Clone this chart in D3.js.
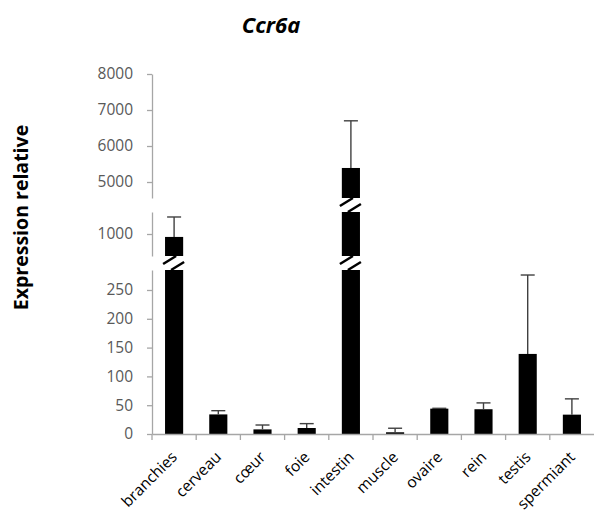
<!DOCTYPE html>
<html>
<head>
<meta charset="utf-8">
<script src="https://cdn.jsdelivr.net/npm/d3@7"></script>
<style>
  html, body { margin: 0; padding: 0; background: #fff; }
  svg { display: block; font-family: "Open Sans", "Noto Sans", sans-serif; }
</style>
</head>
<body>
<svg id="chart" width="594" height="513"></svg>
<script>
// ---- data ----
const categories = ["branchies", "cerveau", "cœur", "foie", "intestin", "muscle", "ovaire", "rein", "testis", "spermiant"];
const values     = [960, 34, 8, 10.4, 5390, 3, 44, 43, 139, 33.6];
const errors     = [272, 6.5, 7.6, 7.6, 1310, 7, 0.6, 11, 137, 27.4];
const title = "Ccr6a";
const yTitle = "Expression relative";
// broken y axis: three segments (low, middle, high)
const segDomains = [[0, 284.7], [700, 1300], [4556, 8000]];
const segTicks   = [[0, 50, 100, 150, 200, 250], [1000], [5000, 6000, 7000, 8000]];

// ---- layout ----
const svg = d3.select("#chart");
const axisX = 152, xEnd = 594;
const segRanges = [[434, 270], [256, 212], [198, 74]];
const axisColor = "#a6a6a6", labelColor = "#595959";

const x = d3.scaleBand().domain(categories).range([axisX, xEnd]).padding(0);
const step = x.step();
const barW = step * 0.41;
const cx = c => x(c) + step / 2;

const segScales = segDomains.map((d, i) => d3.scaleLinear().domain(d).range(segRanges[i]));

// title
svg.append("text").attr("x", 271).attr("y", 33)
  .attr("text-anchor", "middle").attr("font-size", 22)
  .attr("font-weight", "bold").attr("font-style", "italic").attr("fill", "#000")
  .text(title);

// y title
svg.append("text").attr("transform", "translate(28,217.5) rotate(-90)")
  .attr("text-anchor", "middle").attr("font-size", 19.5).attr("font-weight", "bold")
  .attr("fill", "#000").text(yTitle);

// y axes per segment
segScales.forEach((s, i) => {
  const g = svg.append("g").attr("transform", `translate(${axisX},0)`)
    .call(d3.axisLeft(s).tickValues(segTicks[i]).tickSize(5).tickSizeOuter(0).tickPadding(14).tickFormat(d3.format("d")));
  g.select(".domain").attr("stroke", axisColor).attr("stroke-width", 1.3);
  g.selectAll(".tick line").attr("stroke", axisColor).attr("stroke-width", 1.3);
  g.selectAll(".tick text").attr("fill", labelColor).attr("font-size", 15.5)
    .attr("font-family", "Open Sans, sans-serif");
});

// bars per segment
const data = categories.map((c, i) => ({ c, v: values[i], e: errors[i] }));
segScales.forEach((s, i) => {
  const [lo, hi] = s.domain();
  svg.append("g").selectAll("rect")
    .data(data.filter(d => d.v > lo))
    .join("rect")
    .attr("x", d => cx(d.c) - barW / 2)
    .attr("width", barW)
    .attr("y", d => s(Math.min(d.v, hi)))
    .attr("height", d => s(lo) - s(Math.min(d.v, hi)))
    .attr("fill", "#000");
});

// break marks between segments
for (let i = 0; i < segScales.length - 1; i++) {
  const gapMid = (segRanges[i][1] + segRanges[i + 1][0]) / 2;
  const nextLo = segDomains[i + 1][0];
  const g = svg.append("g");
  data.filter(d => d.v > nextLo).forEach(d => {
    const c0 = cx(d.c);
    [[-11, 1, 2, -7], [-3, 7, 10, -1]].forEach(o => {
      g.append("line")
        .attr("x1", c0 + o[0]).attr("y1", gapMid + o[1])
        .attr("x2", c0 + o[2]).attr("y2", gapMid + o[3])
        .attr("stroke", "#000").attr("stroke-width", 2.5);
    });
  });
}

// error bars (upper only)
const segOf = v => segScales.findIndex(s => v >= s.domain()[0] && v <= s.domain()[1]);
const eg = svg.append("g").attr("stroke", "#404040").attr("stroke-width", 1.4);
data.forEach(d => {
  const si = segOf(d.v);
  const s = segScales[si];
  const c0 = cx(d.c);
  eg.append("line").attr("x1", c0).attr("x2", c0).attr("y1", s(d.v)).attr("y2", s(d.v + d.e));
  eg.append("line").attr("x1", c0 - 7).attr("x2", c0 + 7).attr("y1", s(d.v + d.e)).attr("y2", s(d.v + d.e));
});

// x axis
const y0 = segScales[0](0);
const xg = svg.append("g").attr("transform", `translate(0,${y0})`)
  .call(d3.axisBottom(x).tickSize(0).tickSizeOuter(0).tickFormat(""));
xg.select(".domain").attr("stroke", axisColor).attr("stroke-width", 1.3);
svg.append("g").selectAll("line")
  .data(categories)
  .join("line")
  .attr("x1", c => x(c)).attr("x2", c => x(c))
  .attr("y1", y0).attr("y2", y0 + 6)
  .attr("stroke", axisColor).attr("stroke-width", 1.3);
svg.append("g").selectAll("text")
  .data(categories)
  .join("text")
  .attr("transform", c => `translate(${cx(c) + 4},${y0 + 24}) rotate(-45)`)
  .attr("text-anchor", "end")
  .attr("font-size", 15.5)
  .attr("fill", "#000")
  .text(c => c);
</script>
</body>
</html>
